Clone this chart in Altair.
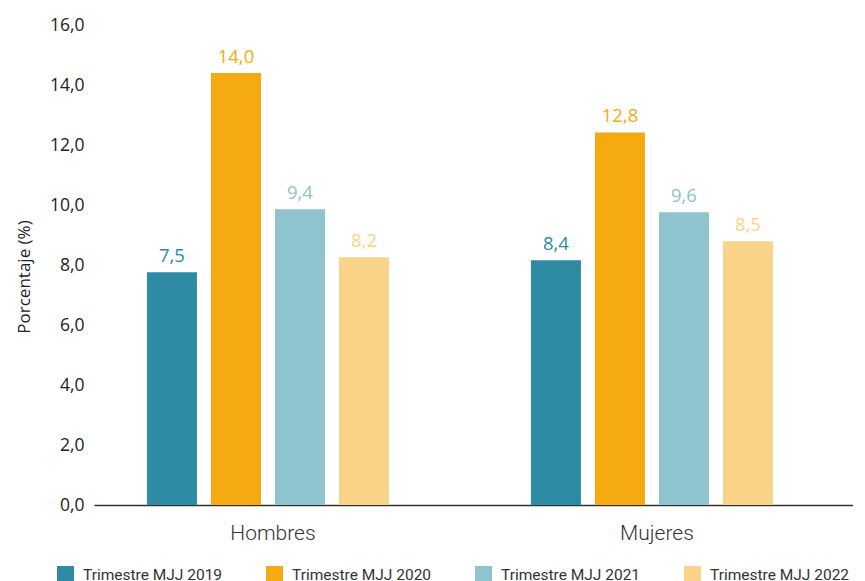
import altair as alt
import pandas as pd

groups = ["Hombres", "Mujeres"]
years = ["Trimestre MJJ 2019", "Trimestre MJJ 2020", "Trimestre MJJ 2021", "Trimestre MJJ 2022"]
colors = ["#2E8BA3", "#F5AA12", "#8FC3CE", "#F9D488"]

# bar heights as drawn
hombres_vals = [7.76, 14.40, 9.86, 8.26]
mujeres_vals = [8.16, 12.42, 9.76, 8.79]
# labels as printed
hombres_labels = ["7,5", "14,0", "9,4", "8,2"]
mujeres_labels = ["8,4", "12,8", "9,6", "8,5"]

rows = []
for g, vals, labs in [("Hombres", hombres_vals, hombres_labels), ("Mujeres", mujeres_vals, mujeres_labels)]:
    for y, v, l in zip(years, vals, labs):
        rows.append({"grupo": g, "serie": y, "valor": v, "etiqueta": l})
df = pd.DataFrame(rows)

x_enc = alt.X("grupo:N", sort=groups, title=None,
              scale=alt.Scale(paddingInner=0.1, paddingOuter=0.0383, align=0.04),
              axis=alt.Axis(labelAngle=0, labelFont="Roboto", labelFontSize=21, labelFontWeight=300,
                            labelColor="#333333", labelPadding=17, labelOffset=5, ticks=False,
                            domainColor="#333333", domainWidth=1.5))
xo_enc = alt.XOffset("serie:N", sort=years,
                     scale=alt.Scale(paddingInner=0.21875, paddingOuter=0.809))
y_enc = alt.Y("valor:Q", title="Porcentaje (%)",
              scale=alt.Scale(domain=[0, 16]),
              axis=alt.Axis(values=[0, 2, 4, 6, 8, 10, 12, 14, 16],
                            labelExpr="replace(format(datum.value, '.1f'), '.', ',')",
                            labelFont="Open Sans", labelFontSize=17.5, labelColor="#222222",
                            labelPadding=10, ticks=False, domain=False, grid=False,
                            titleFont="Open Sans", titleFontSize=17, titleFontWeight="normal",
                            titleColor="#222222", titleAngle=270, titleAlign="center",
                            titleBaseline="alphabetic", titleX=-65, titleY=251.5))
color_scale = alt.Scale(domain=years, range=colors)

bars = alt.Chart(df).mark_bar().encode(
    x=x_enc, xOffset=xo_enc, y=y_enc,
    color=alt.Color("serie:N", scale=color_scale, title=None,
                    legend=alt.Legend(orient="none", legendX=-37, legendY=541, direction="horizontal",
                                      columns=4, symbolType="square", symbolSize=289,
                                      symbolStrokeWidth=0, labelFont="Roboto", labelFontSize=15.5,
                                      labelColor="#333333", labelOffset=9, columnPadding=43,
                                      padding=0, labelLimit=300)),
)

texts = alt.Chart(df).mark_text(baseline="alphabetic", dy=-10, font="Open Sans", fontSize=18.5).encode(
    x=x_enc, xOffset=xo_enc, y=y_enc,
    text="etiqueta:N",
    color=alt.Color("serie:N", scale=color_scale, legend=None),
)

chart = alt.layer(bars, texts).properties(
    width=759, height=480,
    padding={"left": 7, "top": 8, "right": 0, "bottom": 0},
    background="white",
).configure_view(stroke=None)

chart.save("out.html", embed_options={"renderer": "svg", "actions": False})
